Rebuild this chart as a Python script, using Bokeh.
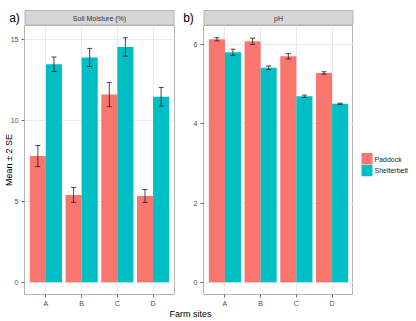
import numpy as np
from bokeh.core.properties import value
from bokeh.embed import file_html
from bokeh.layouts import column, row
from bokeh.models import (ColumnDataSource, FixedTicker, Label, Range1d,
                          SingleIntervalTicker)
from bokeh.plotting import figure
from bokeh.resources import INLINE

# ---- data: mean and 2*SE per farm site ----
sites = ["A", "B", "C", "D"]
groups = ["Paddock", "Shelterbelt"]

moisture_paddock = [7.80, 5.40, 11.60, 5.33]
moisture_paddock_2se = [0.65, 0.46, 0.75, 0.40]
moisture_shelter = [13.47, 13.89, 14.54, 11.46]
moisture_shelter_2se = [0.45, 0.56, 0.57, 0.58]

ph_paddock = [6.14, 6.09, 5.71, 5.29]
ph_paddock_2se = [0.04, 0.08, 0.065, 0.03]
ph_shelter = [5.81, 5.42, 4.70, 4.51]
ph_shelter_2se = [0.08, 0.045, 0.03, 0.015]

# ---- style ----
FONT = "Liberation Sans"
COLORS = ["#F8766D", "#00BFC4"]
BORDER = "#b5b5b5"
GRID = "#ebebeb"
STRIP = "#d6d6d6"

# ---- layout (pixels) ----
STRIP_H = 25
STRIP_BAND = 15
PANEL_H = 284
BOTTOM = 14
FOOT_H = 321 - STRIP_H - PANEL_H
FRAME_W = 150
FRAME_H = PANEL_H - BOTTOM
LEFT_W, LEFT_PAD = 178, 24
RIGHT_W, RIGHT_PAD = 175, 25
LEG_W = 416 - LEFT_W - RIGHT_W


def make_panel(width, left, right, paddock, paddock_se, shelter, shelter_se,
               interval, ylabel=None):
    top = max(np.max(np.add(paddock, paddock_se)), np.max(np.add(shelter, shelter_se)))
    pad = 0.05 * top
    n = len(sites)
    p = figure(width=width, height=PANEL_H, title=None,
               x_range=Range1d(0.4, n + 0.6), y_range=Range1d(-pad, top + pad),
               output_backend="svg", toolbar_location=None,
               min_border_left=left, min_border_right=right,
               min_border_top=0, min_border_bottom=BOTTOM)
    x = np.arange(1, n + 1)
    dodge = 0.225
    cap = 0.07
    for vals, errs, off, color in ((paddock, paddock_se, -dodge, COLORS[0]),
                                   (shelter, shelter_se, dodge, COLORS[1])):
        xs = x + off
        lo = np.subtract(vals, errs)
        hi = np.add(vals, errs)
        src = ColumnDataSource(dict(x=xs, top=vals, lo=lo, hi=hi,
                                    xl=xs - cap, xr=xs + cap))
        p.vbar(x="x", top="top", bottom=0, width=0.45, source=src,
               fill_color=color, line_color=None)
        p.segment(x0="x", x1="x", y0="lo", y1="hi", source=src,
                  line_color="#1a1a1a", line_width=0.8)
        p.segment(x0="xl", x1="xr", y0="hi", y1="hi", source=src,
                  line_color="#1a1a1a", line_width=0.8)
        p.segment(x0="xl", x1="xr", y0="lo", y1="lo", source=src,
                  line_color="#1a1a1a", line_width=0.8)

    p.xaxis.ticker = FixedTicker(ticks=[int(i) for i in x])
    p.xaxis.major_label_overrides = {int(i): s for i, s in zip(x, sites)}
    p.yaxis.ticker = SingleIntervalTicker(interval=interval, num_minor_ticks=2)

    p.axis.axis_line_color = None
    p.axis.major_tick_line_color = "#666666"
    p.axis.major_tick_out = 3
    p.axis.major_tick_in = 0
    p.axis.minor_tick_line_color = None
    p.axis.major_label_text_font = FONT
    p.axis.major_label_text_font_size = "7px"
    p.axis.major_label_text_color = "#4d4d4d"
    p.axis.major_label_standoff = 2
    if ylabel:
        p.yaxis.axis_label = ylabel
        p.yaxis.axis_label_standoff = -6
        p.yaxis.axis_label_text_font = FONT
        p.yaxis.axis_label_text_font_size = "9px"
        p.yaxis.axis_label_text_font_style = "normal"
        p.yaxis.axis_label_text_color = "black"

    p.xgrid.grid_line_color = GRID
    p.ygrid.grid_line_color = GRID
    p.ygrid.minor_grid_line_color = None
    p.outline_line_color = BORDER
    p.outline_line_width = 1
    p.background_fill_color = "white"
    return p


def make_strip(width, left, text, tag, tag_x):
    # facet strip: grey band over the panel, with the panel tag to its left
    s = figure(width=width, height=STRIP_H, title=None,
               x_range=Range1d(0, width), y_range=Range1d(0, STRIP_H),
               x_axis_type=None, y_axis_type=None,
               output_backend="svg", toolbar_location=None, min_border=0)
    s.outline_line_color = None
    s.quad(left=[left + 0.5], right=[left + FRAME_W - 0.5], bottom=[0.5], top=[STRIP_BAND],
           fill_color=STRIP, line_color=BORDER, line_width=1)
    s.add_layout(Label(x=left + FRAME_W / 2, y=STRIP_BAND / 2, text=text,
                       text_align="center", text_baseline="middle", text_font=FONT,
                       text_font_size="7px", text_color="#333333"))
    s.add_layout(Label(x=tag_x, y=STRIP_H - 17.5, text=tag, text_align="center",
                       text_baseline="middle", text_font=FONT,
                       text_font_size="12px", text_color="black"))
    return s


p1 = make_panel(LEFT_W, LEFT_PAD, LEFT_W - LEFT_PAD - FRAME_W,
                moisture_paddock, moisture_paddock_2se,
                moisture_shelter, moisture_shelter_2se, 5, ylabel="Mean ± 2 SE")
p2 = make_panel(RIGHT_W, RIGHT_PAD, RIGHT_W - RIGHT_PAD - FRAME_W,
                ph_paddock, ph_paddock_2se, ph_shelter, ph_shelter_2se, 2)

s1 = make_strip(LEFT_W, LEFT_PAD, "Soil Moisture (%)", "a)", 14)
s2 = make_strip(RIGHT_W + LEG_W, RIGHT_PAD, "pH", "b)", 10)

# legend column: colour keys for the two groups
KEY_TOP = 153 - STRIP_H          # below the top of the panel frame
KEY_H = 12
leg = figure(width=LEG_W, height=PANEL_H, title=None,
             x_range=Range1d(0, LEG_W), y_range=Range1d(0, FRAME_H),
             x_axis_type=None, y_axis_type=None,
             output_backend="svg", toolbar_location=None,
             min_border_left=0, min_border_right=0,
             min_border_top=0, min_border_bottom=BOTTOM)
leg.outline_line_color = None
leg.grid.visible = False
key_top = [FRAME_H - KEY_TOP - i * KEY_H for i in range(len(groups))]
key_src = ColumnDataSource(dict(
    top=key_top,
    bottom=[t - KEY_H + 0.6 for t in key_top],
    mid=[t - KEY_H / 2 for t in key_top],
    color=COLORS, label=groups))
leg.quad(left=8, right=19, top="top", bottom="bottom", fill_color="color",
         line_color=None, source=key_src)
leg.text(x=21, y="mid", text="label", source=key_src, text_font=value(FONT),
         text_font_size="7px", text_color="#1a1a1a", text_baseline="middle")

# shared x-axis title
foot = figure(width=416, height=FOOT_H, title=None,
              x_range=Range1d(0, 416), y_range=Range1d(0, FOOT_H),
              x_axis_type=None, y_axis_type=None,
              output_backend="svg", toolbar_location=None, min_border=0)
foot.outline_line_color = None
foot.add_layout(Label(x=190, y=FOOT_H - 4, text="Farm sites", text_align="center",
                      text_baseline="middle", text_font=FONT,
                      text_font_size="9px", text_color="black"))

layout = column(row(s1, s2), row(p1, p2, leg), foot)

open("out.html", "w").write(file_html(layout, INLINE))
